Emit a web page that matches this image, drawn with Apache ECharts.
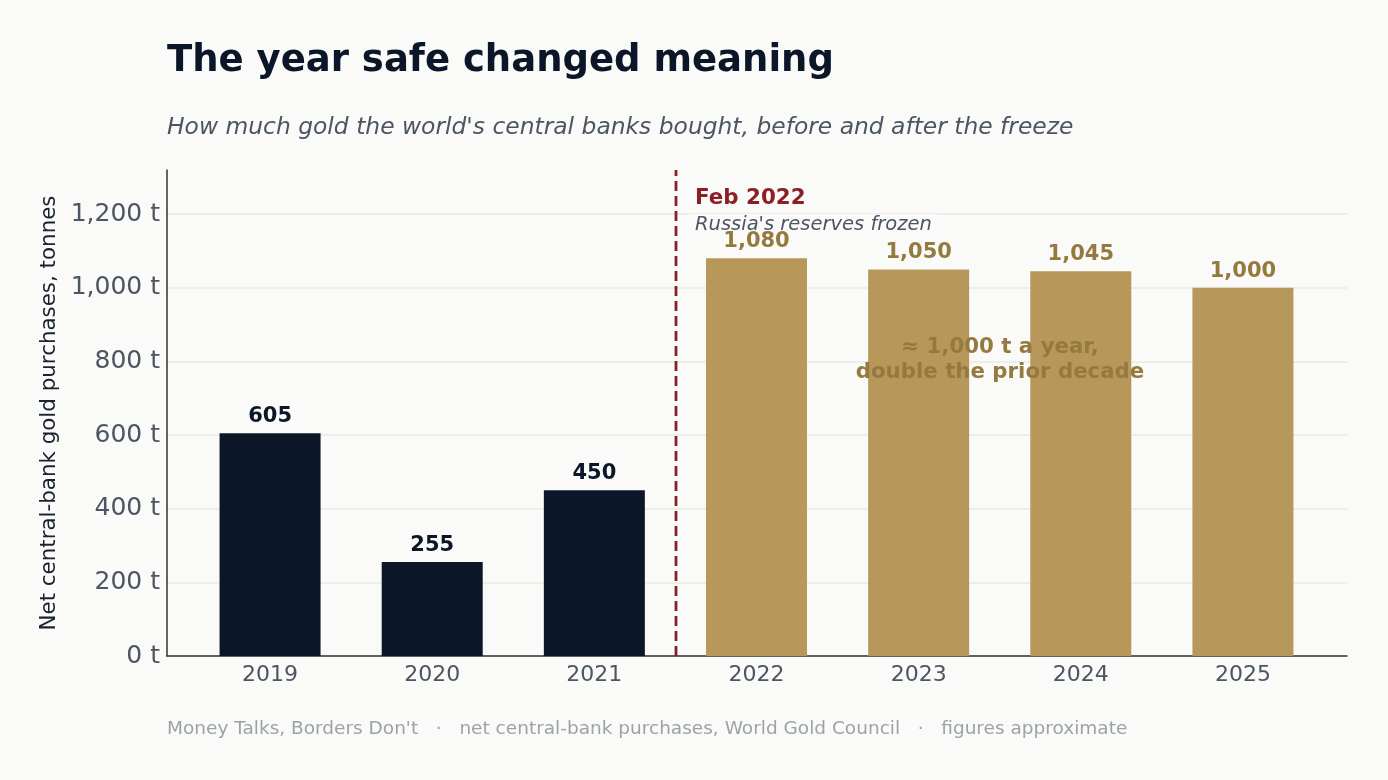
<!DOCTYPE html>
<html lang="en">
<head>
<meta charset="UTF-8">
<title>The year safe changed meaning</title>
<script src="https://cdn.jsdelivr.net/npm/echarts@6/dist/echarts.min.js"></script>
<style>
  html, body { margin: 0; padding: 0; background: #fafaf8; }
  #chart { width: 1388px; height: 780px; }
</style>
</head>
<body>
<div id="chart"></div>
<script>
// data
var years = ['2019', '2020', '2021', '2022', '2023', '2024', '2025'];
var tonnes = [605, 255, 450, 1080, 1050, 1045, 1000];
var afterFreeze = [false, false, false, true, true, true, true];
var freezeAt = [2.5, 2.5];          // between 2021 and 2022, in category units
var freezeSpan = [0, 1320];

var FONT = 'DejaVu Sans';
var NAVY = '#0b1728';
var GOLD = '#b8975a';
var GOLD_TEXT = '#957a40';
var RED = '#8b1f24';
var BG = '#fafaf8';

var chart = echarts.init(document.getElementById('chart'));

var barData = tonnes.map(function (v, i) {
  return {
    value: v,
    itemStyle: { color: afterFreeze[i] ? GOLD : NAVY },
    label: { color: afterFreeze[i] ? GOLD_TEXT : NAVY }
  };
});

// grid 0 = full frame (axis lines, grid lines, marker); grid 1 = bars, padded like matplotlib
var option = {
  backgroundColor: BG,
  animation: false,
  grid: [
    { left: 167, right: 41, top: 170, bottom: 124 },
    { left: 189, right: 64, top: 170, bottom: 124 }
  ],
  xAxis: [{
    gridIndex: 0,
    type: 'value',
    min: -0.642, max: 6.642,
    axisLine: { show: true, onZero: false, lineStyle: { color: '#333', width: 1.5 } },
    axisTick: { show: false },
    axisLabel: { show: false },
    splitLine: { show: false }
  }, {
    gridIndex: 1,
    type: 'category',
    data: years,
    axisLine: { show: false },
    axisTick: { show: false },
    axisLabel: { fontFamily: FONT, fontSize: 22, color: '#4b5563', margin: 8 }
  }],
  yAxis: [{
    gridIndex: 0,
    type: 'value',
    min: 0, max: 1320, interval: 200,
    name: 'Net central-bank gold purchases, tonnes',
    nameLocation: 'middle',
    nameGap: 104,
    nameTextStyle: { fontFamily: FONT, fontSize: 21.4, color: '#1a2230' },
    axisLine: { show: true, onZero: false, lineStyle: { color: '#333', width: 1.5 } },
    axisTick: { show: false },
    axisLabel: {
      fontFamily: FONT, fontSize: 25, color: '#4b5563', margin: 7,
      showMaxLabel: false,
      formatter: function (v) { return v.toLocaleString('en-US') + ' t'; }
    },
    splitLine: { showMaxLine: false, lineStyle: { color: '#e8e8e6', width: 1.5 } }
  }, {
    gridIndex: 1,
    type: 'value',
    min: 0, max: 1320, interval: 200,
    show: false,
    splitLine: { show: false }
  }],
  series: [{
    type: 'bar',
    xAxisIndex: 1,
    yAxisIndex: 1,
    data: barData,
    barWidth: 101,
    z: 3,
    label: {
      show: true,
      position: 'top',
      distance: 6,
      fontFamily: FONT,
      fontSize: 21,
      fontWeight: 'bold',
      formatter: function (p) { return p.value.toLocaleString('en-US'); }
    }
  }, {
    type: 'line',
    xAxisIndex: 0,
    yAxisIndex: 0,
    data: [[freezeAt[0], freezeSpan[0]], [freezeAt[1], freezeSpan[1]]],
    symbol: 'none',
    lineStyle: { color: RED, width: 2.8, type: [10, 5] },
    z: 5
  }],
  graphic: [{
    type: 'text', left: 167, top: 43,
    style: { text: 'The year safe changed meaning', fontFamily: FONT, fontSize: 37, fontWeight: 'bold', fill: '#0b1728' }
  }, {
    type: 'text', left: 167, top: 116,
    style: { text: "How much gold the world's central banks bought, before and after the freeze", fontFamily: FONT, fontSize: 23.4, fontStyle: 'italic', fill: '#4b5563' }
  }, {
    type: 'text', left: 690, top: 186,
    style: {
      text: 'Feb 2022', fontFamily: FONT, fontSize: 21.4, fontWeight: 'bold', fill: RED,
      backgroundColor: BG, padding: [2, 5]
    },
    z: 1
  }, {
    type: 'text', left: 690, top: 214,
    style: {
      text: "Russia's reserves frozen", fontFamily: FONT, fontSize: 19.5, fontStyle: 'italic', fill: '#4b5563',
      backgroundColor: BG, padding: [1, 5]
    },
    z: 1
  }, {
    type: 'text', x: 1000, y: 360,
    style: {
      text: '≈ 1,000 t a year,\ndouble the prior decade',
      fontFamily: FONT, fontSize: 21.3, fontWeight: 'bold', fill: GOLD_TEXT,
      align: 'center', verticalAlign: 'middle', lineHeight: 25
    },
    z: 10
  }, {
    type: 'text', left: 167, top: 720,
    style: {
      text: "Money Talks, Borders Don't   \u00b7   net central-bank purchases, World Gold Council   \u00b7   figures approximate",
      fontFamily: FONT, fontSize: 18.5, fill: '#9ca3a8'
    }
  }]
};

chart.setOption(option);
</script>
</body>
</html>
